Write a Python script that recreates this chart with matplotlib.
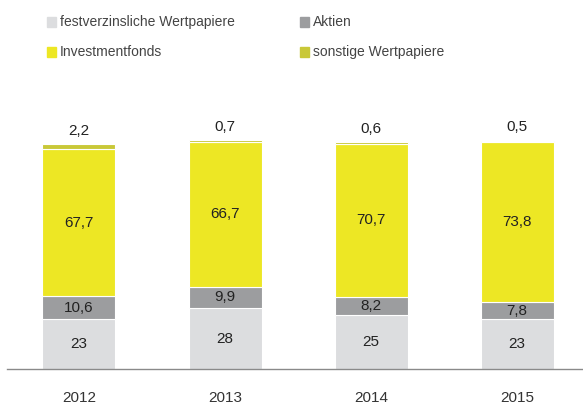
import matplotlib
matplotlib.use("Agg")
import matplotlib.pyplot as plt
from matplotlib.patches import Rectangle

plt.rcParams["font.family"] = ["Liberation Sans", "DejaVu Sans"]

# data
years = ["2012", "2013", "2014", "2015"]
festverzinslich = [23, 28, 25, 23]
aktien = [10.6, 9.9, 8.2, 7.8]
investmentfonds = [67.7, 66.7, 70.7, 73.8]
sonstige = [2.2, 0.7, 0.6, 0.5]

series_names = ["festverzinsliche Wertpapiere", "Aktien", "Investmentfonds", "sonstige Wertpapiere"]
colors = ["#dcdddf", "#9c9d9f", "#ede724", "#c9c838"]

W, H = 583, 405
fig = plt.figure(figsize=(W / 100, H / 100), dpi=100)
# axes in pixel terms: baseline at y=369 from top, axis line starts at x=7
left_px = 7
ax = fig.add_axes([left_px / W, 36 / H, (W - left_px) / W, 268 / H])
ax.set_xlim((left_px - 79) / 146, (W - 79) / 146)
ax.set_ylim(0, 268 / 2.17)

x = list(range(len(years)))
bottom = [0] * len(years)
series = [festverzinslich, aktien, investmentfonds, sonstige]
for vals, col in zip(series, colors):
    ax.bar(x, vals, width=0.5, bottom=bottom, color=col, edgecolor="white", linewidth=0.8)
    bottom = [b + v for b, v in zip(bottom, vals)]

def fmt(v):
    s = f"{v:g}"
    return s.replace(".", ",")

txt = "#222222"
for i in x:
    b = 0
    for k, vals in enumerate(series[:3]):
        v = vals[i]
        ax.text(i, b + v / 2, fmt(v), ha="center", va="center", fontsize=11, color=txt)
        b += v
    ax.text(i, b + sonstige[i] + 3.0, fmt(sonstige[i]), ha="center", va="bottom",
            fontsize=11, color=txt)

for s in ["top", "right", "left"]:
    ax.spines[s].set_visible(False)
ax.spines["bottom"].set_color("#8a8a8a")
ax.spines["bottom"].set_linewidth(1)
ax.set_yticks([])
ax.set_xticks(x)
ax.set_xticklabels(years, fontsize=11, color="#333333")
ax.tick_params(axis="x", length=0, pad=16)

# legend
leg_pos = [(47, 22), (300, 22), (47, 52), (300, 52)]
for (px, py), name, col in zip(leg_pos, series_names, colors):
    fig.patches.append(Rectangle((px / W, 1 - (py + 4.5) / H), 9 / W, 9 / H,
                                 transform=fig.transFigure, color=col))
    fig.text((px + 13) / W, 1 - py / H, name, ha="left", va="center",
             fontsize=10, color="#444444")

fig.savefig("out.png", dpi=100)
